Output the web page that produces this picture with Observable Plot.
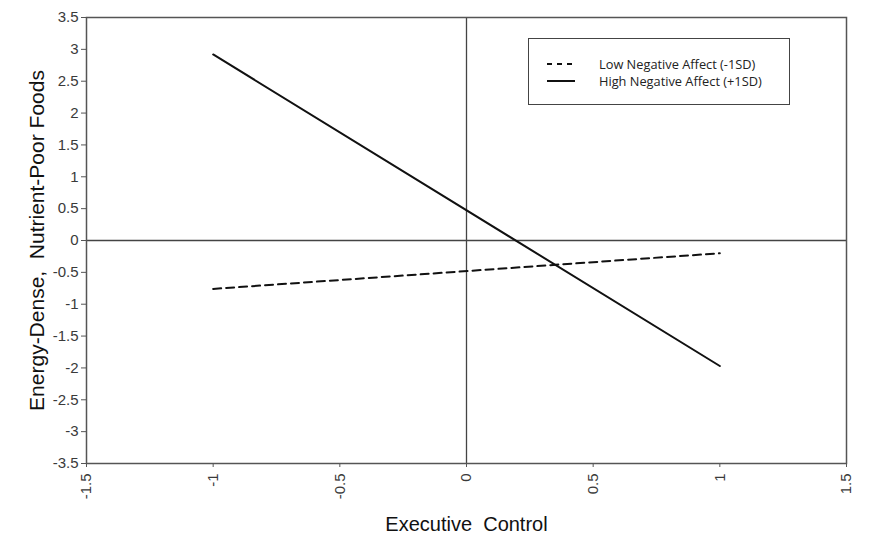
<!DOCTYPE html>
<html>
<head>
<meta charset="utf-8">
<script src="https://cdn.jsdelivr.net/npm/d3@7"></script>
<script src="https://cdn.jsdelivr.net/npm/@observablehq/plot@0.6"></script>
<style>
  body { margin: 0; background: #fff; }
  #wrap { position: relative; width: 875px; height: 545px; }
  #legend {
    position: absolute; left: 528px; top: 38px; width: 262px; height: 67px;
    border: 1.5px solid #444; box-sizing: border-box; background: #fff;
    font-family: "Open Sans", "Noto Sans", sans-serif; font-size: 12.8px; color: #222;
    padding-top: 16px;
  }
  .row { display: flex; align-items: center; height: 17px; }
  .row svg { margin-left: 18px; margin-right: 24px; }
</style>
</head>
<body>
<div id="wrap"></div>
<script>
const xValues = [-1, 1];
const lowNA = [-0.76, -0.2];
const highNA = [2.92, -1.97];
const seriesNames = ["Low Negative Affect (-1SD)", "High Negative Affect (+1SD)"];
const xTicks = [-1.5, -1, -0.5, 0, 0.5, 1, 1.5];
const yTicks = [3.5, 3, 2.5, 2, 1.5, 1, 0.5, 0, -0.5, -1, -1.5, -2, -2.5, -3, -3.5];
const xTitle = "Executive\u00a0 Control";
const yTitle = "Energy-Dense,\u00a0 Nutrient-Poor Foods";

const lowData = xValues.map((x, i) => ({x, y: lowNA[i]}));
const highData = xValues.map((x, i) => ({x, y: highNA[i]}));
const fmt = d => String(d);

const chart = Plot.plot({
  width: 875,
  height: 545,
  marginLeft: 86,
  marginRight: 29,
  marginTop: 17,
  marginBottom: 82,
  style: {fontFamily: "Liberation Sans, Arial, sans-serif", color: "#333", background: "#fff"},
  x: {domain: [-1.5, 1.5]},
  y: {domain: [-3.5, 3.5]},
  marks: [
    Plot.ruleX([0], {stroke: "#444", strokeWidth: 1.3}),
    Plot.ruleY([0], {stroke: "#444", strokeWidth: 1.3}),
    Plot.line(lowData, {x: "x", y: "y", stroke: "#111", strokeWidth: 2, strokeDasharray: "8,5"}),
    Plot.line(highData, {x: "x", y: "y", stroke: "#111", strokeWidth: 2}),
    Plot.frame({stroke: "#555", strokeWidth: 1.5}),
    Plot.axisY({ticks: yTicks, tickFormat: fmt, tickSize: 5, tickPadding: 3, fontSize: 15, label: null, stroke: "#555", fill: "#3a3a3a"}),
    Plot.axisY({ticks: [], label: yTitle, labelAnchor: "center", labelArrow: "none", labelOffset: 57, fontSize: 21, fill: "#111"}),
    Plot.axisX({ticks: xTicks, tickFormat: fmt, tickSize: 4, tickPadding: 6, tickRotate: -90, fontSize: 15, label: null, stroke: "#555", fill: "#3a3a3a"}),
    Plot.axisX({ticks: [], label: xTitle, labelAnchor: "center", labelArrow: "none", labelOffset: 67, fontSize: 20, fill: "#111"})
  ]
});
const wrap = document.getElementById("wrap");
wrap.appendChild(chart);

const legend = document.createElement("div");
legend.id = "legend";
const dashes = ["5,5", null];
seriesNames.forEach((name, i) => {
  const row = document.createElement("div");
  row.className = "row";
  row.innerHTML = `<svg width="28" height="6"><line x1="0" y1="3" x2="28" y2="3" stroke="#111" stroke-width="2" ${dashes[i] ? `stroke-dasharray="${dashes[i]}"` : ""}/></svg><span>${name}</span>`;
  legend.appendChild(row);
});
wrap.appendChild(legend);
</script>
</body>
</html>
